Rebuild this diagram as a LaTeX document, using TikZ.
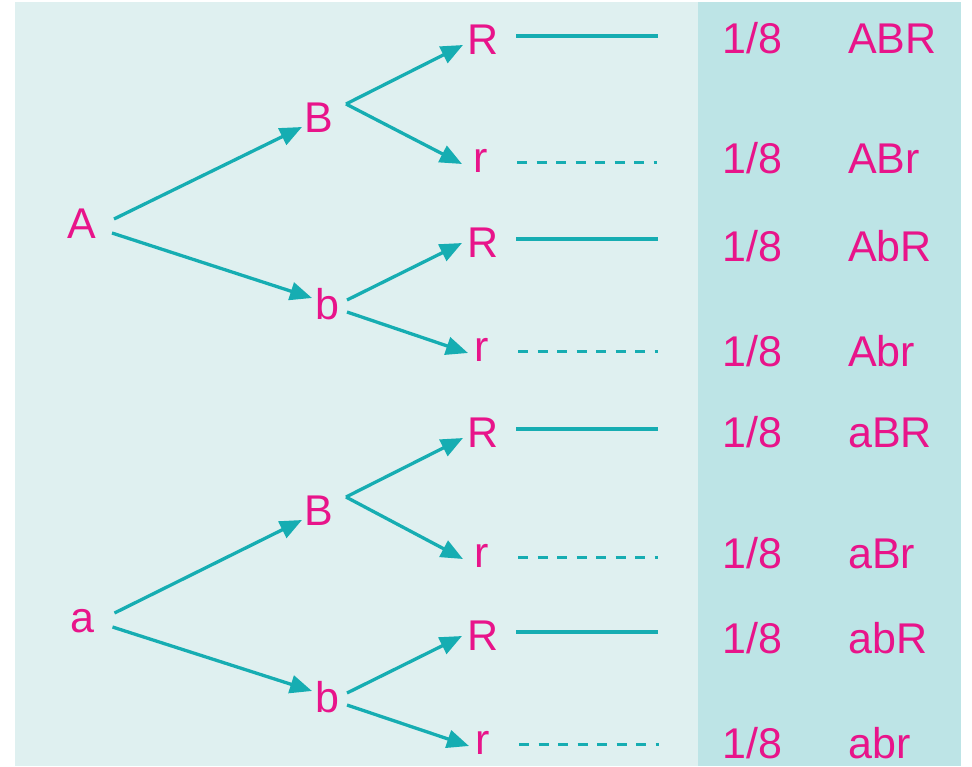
\documentclass[tikz,border=0pt]{standalone}
\usepackage{fontspec}
\setmainfont{Liberation Sans}
\usetikzlibrary{arrows.meta}
\definecolor{bgleft}{HTML}{DFF0F0}
\definecolor{bgright}{HTML}{BDE4E6}
\definecolor{teal1}{HTML}{16ADB2}
\definecolor{mag}{HTML}{E8148A}
\tikzset{
  lbl/.style={text=mag, inner sep=0pt, anchor=base, font=\fontsize{43}{50}\selectfont},
  col/.style={text=mag, inner sep=0pt, anchor=base west, font=\fontsize{43}{50}\selectfont},
  arr/.style={draw=teal1, line width=3.3pt, -{Triangle[length=22pt,width=18pt]}},
  solidl/.style={draw=teal1, line width=4pt},
  dashl/.style={draw=teal1, line width=3.5pt, dash pattern=on 10pt off 9.5pt},
}
\begin{document}
\begin{tikzpicture}[x=1pt,y=-1pt]
\useasboundingbox (0,0) rectangle (972,766);
\fill[white] (0,0) rectangle (972,766);
\fill[bgleft] (15,2) rectangle (698,766);
\fill[bgright] (698,2) rectangle (961,766);

% upper tree
\node[lbl] (A) at (82,238) {A};
\node[lbl] (B1) at (318.5,132) {B};
\node[lbl] (b1) at (327.5,319) {b};
\node[lbl] (R1) at (483.5,54) {R};
\node[lbl] (r1) at (480.5,172) {r};
\node[lbl] (R2) at (483.5,257) {R};
\node[lbl] (r2) at (481.5,361) {r};
% lower tree
\node[lbl] (a) at (82.5,632) {a};
\node[lbl] (B2) at (318.5,525) {B};
\node[lbl] (b2) at (327.5,712) {b};
\node[lbl] (R3) at (483.5,447) {R};
\node[lbl] (r3) at (481.5,567) {r};
\node[lbl] (R4) at (483.5,650) {R};
\node[lbl] (r4) at (482.5,754) {r};

% arrows
\foreach \s/\B/\b in {A/B1/b1, a/B2/b2}{
  \draw[arr] ([shift={(32,-19)}]\s.base) -- ([shift={(-16.5,-5)}]\B.base);
  \draw[arr] ([shift={(30,-5)}]\s.base) -- ([shift={(-15.5,-21)}]\b.base);
}
\foreach \B/\R/\r in {B1/R1/r1, B2/R3/r3}{
  \draw[arr] ([shift={(27.5,-28)}]\B.base) -- ([shift={(-20.5,-9)}]\R.base);
  \draw[arr] ([shift={(27.5,-28)}]\B.base) -- ([shift={(-18.5,-8)}]\r.base);
}
\foreach \b/\R/\r in {b1/R2/r2, b2/R4/r4}{
  \draw[arr] ([shift={(19.5,-19)}]\b.base) -- ([shift={(-21.5,-14)}]\R.base);
  \draw[arr] ([shift={(19.5,-7)}]\b.base) -- ([shift={(-13.5,-8)}]\r.base);
}

% lines
\foreach \R in {R1,R2,R3,R4}{
  \draw[solidl] ([shift={(32.5,-18.5)}]\R.base) -- ++(141.5,0);
}
\foreach \r in {r1,r2,r3,r4}{
  \draw[dashl] ([shift={(36.5,-9.5)}]\r.base) -- ++(140,0);
}

% right column
\foreach \y/\t [count=\i] in {53/ABR,173/ABr,261/AbR,366/Abr,447/aBR,568/aBr,653/abR,758/abr}{
  \node[col] (p\i) at (722,\y) {1/8};
  \node[col] (g\i) at (848,\y) {\t};
}
\end{tikzpicture}
\end{document}
